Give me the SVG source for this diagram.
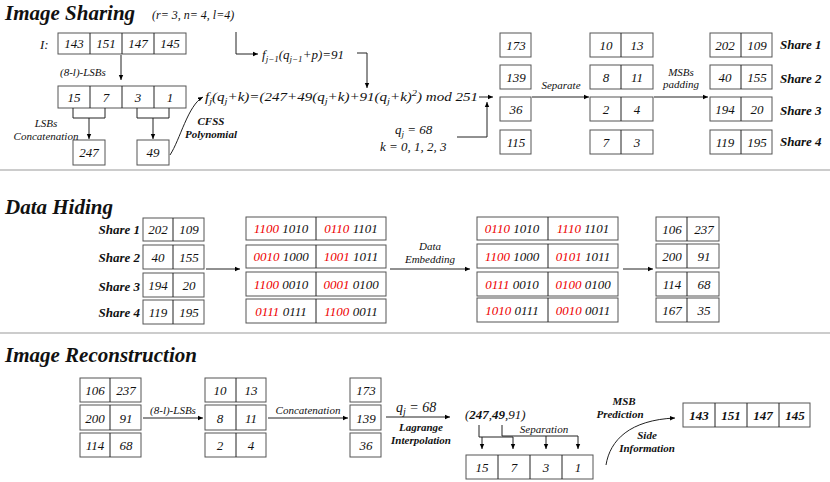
<svg xmlns="http://www.w3.org/2000/svg" width="830" height="482" viewBox="0 0 830 482">
<defs>
<marker id="ah" markerWidth="6" markerHeight="6" refX="5" refY="3" orient="auto" markerUnits="userSpaceOnUse"><path d="M0,0.8 L5,3 L0,5.2 Z" fill="#000"/></marker>
<style>
text{font-family:"Liberation Serif","DejaVu Serif",serif;font-style:italic;fill:#111}
.t{font-size:21px;font-weight:bold}
.c{font-size:13px;text-anchor:middle}
.s{font-size:11px;text-anchor:middle}
.b{font-weight:bold}
.r{fill:#e00}
rect{fill:#fff;stroke:#555;stroke-width:1}
.ln{fill:none;stroke:#222;stroke-width:1}
.a{fill:none;stroke:#222;stroke-width:1;marker-end:url(#ah)}
.sep{stroke:#999;stroke-width:1}
</style>
</defs>
<line class="sep" x1="0" y1="170" x2="830" y2="170"/>
<line class="sep" x1="0" y1="333" x2="830" y2="333"/>
<text x="5" y="20" class="t">Image Sharing</text>
<text x="152" y="19" font-size="12">(r= 3, n= 4, l=4)</text>
<text x="5" y="214" class="t">Data Hiding</text>
<text x="5" y="362" class="t">Image Reconstruction</text>

<g id="imgI">
<text x="40" y="49" font-size="13">I:</text>
<rect x="58" y="33" width="128" height="21"/>
<line class="ln" x1="90" y1="33" x2="90" y2="54"/><line class="ln" x1="122" y1="33" x2="122" y2="54"/><line class="ln" x1="154" y1="33" x2="154" y2="54"/>
<text x="74" y="48" class="c">143</text><text x="106" y="48" class="c">151</text><text x="138" y="48" class="c">147</text><text x="170" y="48" class="c">145</text>
</g>
<g id="lsb">
<rect x="58" y="86" width="128" height="22"/>
<line class="ln" x1="90" y1="86" x2="90" y2="108"/><line class="ln" x1="122" y1="86" x2="122" y2="108"/><line class="ln" x1="154" y1="86" x2="154" y2="108"/>
<text x="74" y="102" class="c">15</text><text x="106" y="102" class="c">7</text><text x="138" y="102" class="c">3</text><text x="170" y="102" class="c">1</text>
</g>
<g id="n247"><rect x="73" y="140" width="32" height="25"/><text x="89" y="157" class="c">247</text></g>
<g id="n49"><rect x="137" y="140" width="32" height="25"/><text x="153" y="157" class="c">49</text></g>
<g id="labels1">
<text x="60" y="76" font-size="11">(8-l)-LSBs</text>
<text x="46" y="127" class="s" fill="#333">LSBs</text>
<text x="46" y="140" class="s">Concatenation</text>
<text x="211" y="125" class="s b" font-style="normal">CFSS</text>
<text x="211" y="138" class="s b" font-style="normal">Polynomial</text>
<text x="262" y="59" font-size="13">f<tspan font-size="9" dy="3">j−1</tspan><tspan dy="-3">(q</tspan><tspan font-size="9" dy="3">j−1</tspan><tspan dy="-3">+p)=91</tspan></text>
<text x="205" y="101" font-size="13" textLength="273" lengthAdjust="spacingAndGlyphs">f<tspan font-size="9" dy="3">j</tspan><tspan dy="-3">(q</tspan><tspan font-size="9" dy="3">j</tspan><tspan dy="-3">+k)=(247+49(q</tspan><tspan font-size="9" dy="3">j</tspan><tspan dy="-3">+k)+91(q</tspan><tspan font-size="9" dy="3">j</tspan><tspan dy="-3">+k)</tspan><tspan font-size="9" dy="-5">2</tspan><tspan dy="5">) mod 251</tspan></text>
<text x="395" y="134" font-size="13">q<tspan font-size="9" dy="3">j</tspan><tspan dy="-3"> = 68</tspan></text>
<text x="380" y="151" font-size="13">k = 0, 1, 2, 3</text>
<text x="561" y="89" class="s">Separate</text>
<text x="681" y="76" class="s">MSBs</text>
<text x="681" y="88" class="s">padding</text>
</g>
<g id="col1">
<rect x="500" y="33" width="31" height="24"/><text x="516" y="50" class="c">173</text>
<rect x="500" y="65" width="31" height="24"/><text x="516" y="82" class="c">139</text>
<rect x="500" y="97" width="31" height="24"/><text x="516" y="114" class="c">36</text>
<rect x="500" y="130" width="31" height="24"/><text x="516" y="147" class="c">115</text>
</g>
<g id="col2">
<rect x="590" y="33" width="63" height="24"/><line class="ln" x1="621" y1="33" x2="621" y2="57"/><text x="606" y="50" class="c">10</text><text x="637" y="50" class="c">13</text>
<rect x="590" y="65" width="63" height="24"/><line class="ln" x1="621" y1="65" x2="621" y2="89"/><text x="606" y="82" class="c">8</text><text x="637" y="82" class="c">11</text>
<rect x="590" y="97" width="63" height="24"/><line class="ln" x1="621" y1="97" x2="621" y2="121"/><text x="606" y="114" class="c">2</text><text x="637" y="114" class="c">4</text>
<rect x="590" y="130" width="63" height="24"/><line class="ln" x1="621" y1="130" x2="621" y2="154"/><text x="606" y="147" class="c">7</text><text x="637" y="147" class="c">3</text>
</g>
<g id="col3">
<rect x="710" y="33" width="62" height="24"/><line class="ln" x1="741" y1="33" x2="741" y2="57"/><text x="725" y="50" class="c">202</text><text x="757" y="50" class="c">109</text>
<rect x="710" y="65" width="62" height="24"/><line class="ln" x1="741" y1="65" x2="741" y2="89"/><text x="725" y="82" class="c">40</text><text x="757" y="82" class="c">155</text>
<rect x="710" y="97" width="62" height="24"/><line class="ln" x1="741" y1="97" x2="741" y2="121"/><text x="725" y="114" class="c">194</text><text x="757" y="114" class="c">20</text>
<rect x="710" y="130" width="62" height="24"/><line class="ln" x1="741" y1="130" x2="741" y2="154"/><text x="725" y="147" class="c">119</text><text x="757" y="147" class="c">195</text>
<text x="780" y="49" font-size="13" class="b">Share 1</text>
<text x="780" y="83" font-size="13" class="b">Share 2</text>
<text x="780" y="115" font-size="13" class="b">Share 3</text>
<text x="780" y="146" font-size="13" class="b">Share 4</text>
</g>

<g id="dh-shares">
<text x="140" y="234" font-size="13" class="b" text-anchor="end">Share 1</text>
<text x="140" y="262" font-size="13" class="b" text-anchor="end">Share 2</text>
<text x="140" y="291" font-size="13" class="b" text-anchor="end">Share 3</text>
<text x="140" y="317" font-size="13" class="b" text-anchor="end">Share 4</text>
<rect x="143" y="218" width="61" height="23"/><line class="ln" x1="173" y1="218" x2="173" y2="241"/><text x="158" y="234" class="c">202</text><text x="189" y="234" class="c">109</text>
<rect x="143" y="245" width="61" height="24"/><line class="ln" x1="173" y1="245" x2="173" y2="269"/><text x="158" y="262" class="c">40</text><text x="189" y="262" class="c">155</text>
<rect x="143" y="273" width="61" height="24"/><line class="ln" x1="173" y1="273" x2="173" y2="297"/><text x="158" y="290" class="c">194</text><text x="189" y="290" class="c">20</text>
<rect x="143" y="300" width="61" height="24"/><line class="ln" x1="173" y1="300" x2="173" y2="324"/><text x="158" y="317" class="c">119</text><text x="189" y="317" class="c">195</text>
</g>
<g id="bin1">
<rect x="246" y="217" width="140" height="23"/><line class="ln" x1="316" y1="217" x2="316" y2="240"/>
<rect x="246" y="245" width="140" height="23"/><line class="ln" x1="316" y1="245" x2="316" y2="268"/>
<rect x="246" y="272" width="140" height="24"/><line class="ln" x1="316" y1="272" x2="316" y2="296"/>
<rect x="246" y="299" width="140" height="24"/><line class="ln" x1="316" y1="299" x2="316" y2="323"/>
<text x="281" y="233" class="c"><tspan class="r">1100</tspan> 1010</text><text x="351" y="233" class="c"><tspan class="r">0110</tspan> 1101</text>
<text x="281" y="261" class="c"><tspan class="r">0010</tspan> 1000</text><text x="351" y="261" class="c"><tspan class="r">1001</tspan> 1011</text>
<text x="281" y="289" class="c"><tspan class="r">1100</tspan> 0010</text><text x="351" y="289" class="c"><tspan class="r">0001</tspan> 0100</text>
<text x="281" y="316" class="c"><tspan class="r">0111</tspan> 0111</text><text x="351" y="316" class="c"><tspan class="r">1100</tspan> 0011</text>
</g>
<g id="bin2">
<rect x="477" y="217" width="141" height="23"/><line class="ln" x1="548" y1="217" x2="548" y2="240"/>
<rect x="477" y="244" width="141" height="24"/><line class="ln" x1="548" y1="244" x2="548" y2="268"/>
<rect x="477" y="272" width="141" height="24"/><line class="ln" x1="548" y1="272" x2="548" y2="296"/>
<rect x="477" y="298" width="141" height="24"/><line class="ln" x1="548" y1="298" x2="548" y2="322"/>
<text x="512" y="233" class="c"><tspan class="r">0110</tspan> 1010</text><text x="583" y="233" class="c"><tspan class="r">1110</tspan> 1101</text>
<text x="512" y="261" class="c"><tspan class="r">1100</tspan> 1000</text><text x="583" y="261" class="c"><tspan class="r">0101</tspan> 1011</text>
<text x="512" y="289" class="c"><tspan class="r">0111</tspan> 0010</text><text x="583" y="289" class="c"><tspan class="r">0100</tspan> 0100</text>
<text x="512" y="315" class="c"><tspan class="r">1010</tspan> 0111</text><text x="583" y="315" class="c"><tspan class="r">0010</tspan> 0011</text>
</g>
<g id="dh-out">
<rect x="656" y="217" width="63" height="24"/><line class="ln" x1="687" y1="217" x2="687" y2="241"/><text x="672" y="234" class="c">106</text><text x="704" y="234" class="c">237</text>
<rect x="656" y="244" width="63" height="24"/><line class="ln" x1="687" y1="244" x2="687" y2="268"/><text x="672" y="261" class="c">200</text><text x="704" y="261" class="c">91</text>
<rect x="656" y="272" width="63" height="24"/><line class="ln" x1="687" y1="272" x2="687" y2="296"/><text x="672" y="289" class="c">114</text><text x="704" y="289" class="c">68</text>
<rect x="656" y="298" width="63" height="24"/><line class="ln" x1="687" y1="298" x2="687" y2="322"/><text x="672" y="315" class="c">167</text><text x="704" y="315" class="c">35</text>
<text x="430" y="250" class="s">Data</text><text x="430" y="263" class="s">Embedding</text>
</g>

<g id="rec1">
<rect x="80" y="378" width="61" height="24"/><line class="ln" x1="110" y1="378" x2="110" y2="402"/><text x="95" y="395" class="c">106</text><text x="126" y="395" class="c">237</text>
<rect x="80" y="405" width="61" height="25"/><line class="ln" x1="110" y1="405" x2="110" y2="430"/><text x="95" y="423" class="c">200</text><text x="126" y="423" class="c">91</text>
<rect x="80" y="433" width="61" height="24"/><line class="ln" x1="110" y1="433" x2="110" y2="457"/><text x="95" y="450" class="c">114</text><text x="126" y="450" class="c">68</text>
</g>
<g id="rec2">
<rect x="205" y="378" width="61" height="24"/><line class="ln" x1="236" y1="378" x2="236" y2="402"/><text x="220" y="395" class="c">10</text><text x="251" y="395" class="c">13</text>
<rect x="205" y="405" width="61" height="25"/><line class="ln" x1="236" y1="405" x2="236" y2="430"/><text x="220" y="423" class="c">8</text><text x="251" y="423" class="c">11</text>
<rect x="205" y="433" width="61" height="24"/><line class="ln" x1="236" y1="433" x2="236" y2="457"/><text x="220" y="450" class="c">2</text><text x="251" y="450" class="c">4</text>
</g>
<g id="rec3">
<rect x="350" y="378" width="31" height="24"/><text x="366" y="395" class="c">173</text>
<rect x="350" y="405" width="31" height="25"/><text x="366" y="423" class="c">139</text>
<rect x="350" y="433" width="31" height="24"/><text x="366" y="450" class="c">36</text>
</g>
<g id="rec-labels">
<text x="173" y="414" class="s">(8-l)-LSBs</text>
<text x="308" y="414" class="s">Concatenation</text>
<text x="396" y="412" font-size="14">q<tspan font-size="10" dy="3">j</tspan><tspan dy="-3"> = 68</tspan></text>
<text x="421" y="431" class="s b" font-style="normal">Lagrange</text>
<text x="421" y="444" class="s b" font-style="normal">Interpolation</text>
<text x="465" y="419" font-size="13">(<tspan class="b">247</tspan>,<tspan class="b">49</tspan>,91)</text>
<text x="544" y="433" class="s" fill="#555">Separation</text>
<text x="624" y="405" class="s b" font-style="normal">MSB</text>
<text x="620" y="418" class="s b" font-style="normal">Prediction</text>
<text x="647" y="439" class="s b" font-style="normal">Side</text>
<text x="647" y="452" class="s b" font-style="normal">Information</text>
</g>
<g id="rec-bits">
<rect x="466" y="455" width="127" height="24"/>
<line class="ln" x1="498" y1="455" x2="498" y2="479"/><line class="ln" x1="530" y1="455" x2="530" y2="479"/><line class="ln" x1="562" y1="455" x2="562" y2="479"/>
<text x="482" y="472" class="c">15</text><text x="514" y="472" class="c">7</text><text x="546" y="472" class="c">3</text><text x="578" y="472" class="c">1</text>
</g>
<g id="rec-out">
<rect x="683" y="403" width="127" height="24"/>
<line class="ln" x1="715" y1="403" x2="715" y2="427"/><line class="ln" x1="747" y1="403" x2="747" y2="427"/><line class="ln" x1="779" y1="403" x2="779" y2="427"/>
<text x="699" y="420" class="c b">143</text><text x="731" y="420" class="c b">151</text><text x="763" y="420" class="c b">147</text><text x="795" y="420" class="c b">145</text>
</g>

<g id="connectors">
<path class="a" d="M121,55 V80"/>
<path class="ln" d="M73,108 V118 H105 V108"/><path class="a" d="M89,118 V139"/>
<path class="ln" d="M137,108 V118 H169 V108"/><path class="a" d="M153,118 V139"/>
<path class="a" d="M170,155 C180,140 188,105 203,97"/>
<path class="a" d="M236,32 V54 H258"/>
<path class="ln" d="M357,53 H367"/><path class="a" d="M367,53 V88"/>
<path class="a" d="M479,97 H493"/>
<path class="a" d="M457,137 H487 V102"/>
<path class="a" d="M532,97 H589"/>
<path class="a" d="M654,97 H708"/>
<path class="a" d="M206,269 H240"/>
<path class="a" d="M390,269 H470"/>
<path class="a" d="M623,269 H653"/>
<path class="a" d="M143,418 H203"/>
<path class="a" d="M268,418 H348"/>
<path class="a" d="M386,417 H450"/>
<path class="ln" d="M479,425 V437 H513"/><path class="a" d="M482,437 V449"/><path class="a" d="M513,437 V449"/>
<path class="ln" d="M502,425 V436 H578"/><path class="a" d="M546,436 V449"/><path class="a" d="M578,436 V449"/>
<path class="a" d="M606,465 C610,440 630,420 675,418"/>
</g>
</svg>
